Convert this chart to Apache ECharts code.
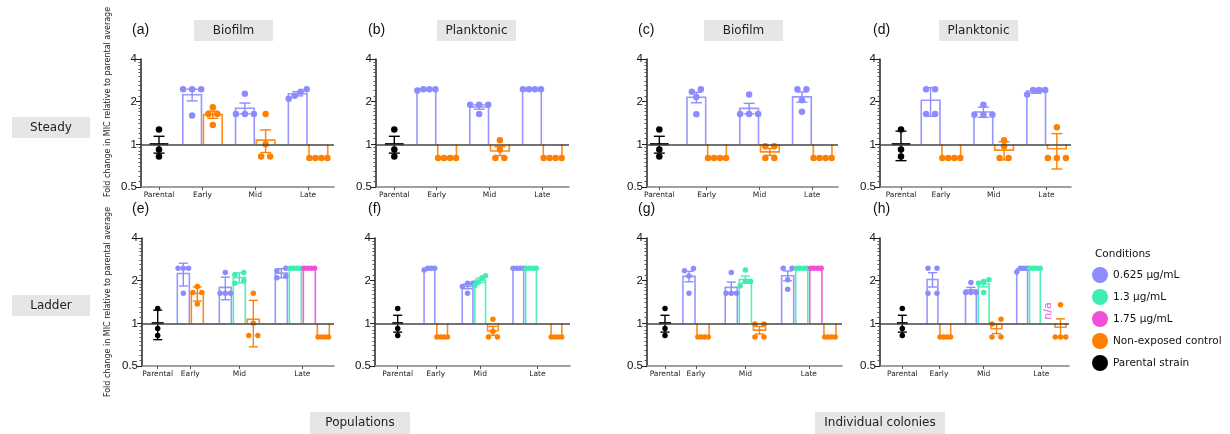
<!DOCTYPE html>
<html>
<head>
<meta charset="utf-8">
<script src="https://cdn.jsdelivr.net/npm/echarts@6/dist/echarts.min.js"></script>
<style>
html, body { margin: 0; padding: 0; background: #fff; }
#chart { width: 1230px; height: 434px; }
</style>
</head>
<body>
<div id="chart"></div>
<script>
const conditions = ['0.625 µg/mL', '1.3 µg/mL', '1.75 µg/mL', 'Non-exposed control', 'Parental strain'];
const condColors = ['#8c8cff', '#3eeeb0', '#f050d8', '#ff8000', '#000000'];
const stages = ['Parental', 'Early', 'Mid', 'Late'];

// parental strain, same three replicates in every panel
const parentalDots = [1.27, 0.92, 0.82];

// condition of each bar slot (index into conditions)
const steadySlots = [0, 3, 0, 3, 0, 3];          // Early, Mid, Late
const ladderSlots = [0, 3, 0, 1, 3, 0, 1, 2, 3]; // Early | Mid | Late

// individual fold changes per bar, in slot order
const dotsA = [[2.45, 2.45, 2.45, 1.6], [1.83, 1.64, 1.64, 1.37], [2.27, 1.64, 1.64, 1.64], [1.64, 1.0, 0.82, 0.82], [2.35, 2.45, 2.2, 2.1], [0.8, 0.8, 0.8, 0.8]];
const dotsB = [[2.4, 2.45, 2.45, 2.45], [0.8, 0.8, 0.8, 0.8], [1.9, 1.9, 1.9, 1.64], [1.07, 0.92, 0.8, 0.8], [2.45, 2.45, 2.45, 2.45], [0.8, 0.8, 0.8, 0.8]];
const dotsC = [[2.35, 2.45, 2.16, 1.63], [0.8, 0.8, 0.8, 0.8], [2.25, 1.64, 1.64, 1.64], [0.97, 0.97, 0.8, 0.8], [2.45, 2.45, 2.05, 1.7], [0.8, 0.8, 0.8, 0.8]];
const dotsD = [[2.45, 2.45, 1.64, 1.64], [0.8, 0.8, 0.8, 0.8], [1.9, 1.62, 1.62, 1.62], [1.07, 0.97, 0.8, 0.8], [2.42, 2.42, 2.42, 2.25], [1.32, 0.8, 0.8, 0.8]];
const dotsE = [[2.45, 2.45, 2.45, 1.63], [1.82, 1.65, 1.65, 1.37], [2.28, 1.63, 1.63, 1.63], [2.28, 2.2, 2.0, 1.92], [1.63, 1.0, 0.82, 0.82], [2.45, 2.35, 2.15, 2.1], [2.45, 2.45, 2.45, 2.45], [2.45, 2.45, 2.45, 2.45], [0.8, 0.8, 0.8, 0.8]];
const dotsF = [[2.38, 2.45, 2.45, 2.45], [0.8, 0.8, 0.8, 0.8], [1.92, 1.92, 1.82, 1.63], [2.1, 2.17, 1.95, 1.85], [1.07, 0.88, 0.8, 0.8], [2.45, 2.45, 2.45, 2.45], [2.45, 2.45, 2.45, 2.45], [], [0.8, 0.8, 0.8, 0.8]];
const dotsG = [[2.35, 2.44, 2.16, 1.63], [0.8, 0.8, 0.8, 0.8], [2.28, 1.63, 1.63, 1.63], [2.38, 1.97, 1.97, 1.84], [0.99, 0.99, 0.8, 0.8], [2.45, 2.45, 2.03, 1.74], [2.45, 2.45, 2.45, 2.45], [2.45, 2.45, 2.45, 2.45], [0.8, 0.8, 0.8, 0.8]];
const dotsH = [[2.45, 2.45, 1.63, 1.63], [0.8, 0.8, 0.8, 0.8], [1.94, 1.65, 1.65, 1.65], [2.03, 1.97, 1.92, 1.65], [1.07, 0.99, 0.8, 0.8], [2.45, 2.45, 2.45, 2.3], [2.45, 2.45, 2.45, 2.45], null, [1.35, 0.8, 0.8, 0.8]];

// layout of the two rows (slot positions in bar widths, relative to first bar)
const rows = [
  { top: 59, height: 128, slotX: [0, 1, 2.55, 3.55, 5.1, 6.1], stageX: [0.5, 3.05, 5.6], cond: steadySlots, dot: 6.5, cap: 11, maxStep: 9, span: 18, letterY: 31 },
  { top: 238, height: 128, slotX: [0, 1, 3, 4, 5, 7, 8, 9, 10], stageX: [0.5, 4, 8.5], cond: ladderSlots, dot: 5.5, cap: 9, maxStep: 9, span: 10.5, letterY: 210 }
];
const panels = [
  { letter: '(a)', row: 0, dots: dotsA, err: 'sem', left: 141, right: 334, parental: 159, unit: 20.7, offset: 1.6, lx: 132 },
  { letter: '(b)', row: 0, dots: dotsB, err: 'sem', left: 376, right: 569, parental: 394.3, unit: 20.7, offset: 1.55, lx: 368 },
  { letter: '(c)', row: 0, dots: dotsC, err: 'sem', left: 647, right: 838, parental: 659.3, unit: 20.7, offset: 1.79, lx: 638 },
  { letter: '(d)', row: 0, dots: dotsD, err: 'sd', left: 880, right: 1071, parental: 901, unit: 20.7, offset: 1.43, lx: 873 },
  { letter: '(e)', row: 1, dots: dotsE, err: 'sd', left: 142, right: 334, parental: 157.7, unit: 14, offset: 1.83, lx: 132 },
  { letter: '(f)', row: 1, dots: dotsF, err: 'sem', left: 375, right: 570, parental: 397.7, unit: 12.7, offset: 2.5, lx: 368 },
  { letter: '(g)', row: 1, dots: dotsG, err: 'sem', left: 647, right: 842, parental: 665, unit: 14.1, offset: 1.7, lx: 638 },
  { letter: '(h)', row: 1, dots: dotsH, err: 'sem', left: 880, right: 1069, parental: 902.3, unit: 12.8, offset: 2.36, lx: 873 }
];

const FONT = 'DejaVu Sans';

function mean(v) { return v.reduce((s, x) => s + x, 0) / v.length; }
function errOf(v, kind) {
  const m = mean(v);
  const sd = Math.sqrt(v.reduce((s, x) => s + (x - m) * (x - m), 0) / (v.length - 1));
  return kind === 'sd' ? sd : sd / Math.sqrt(v.length);
}
// spread dots that would sit on top of each other
function swarm(vals, maxStep, span) {
  const idx = vals.map((v, i) => i).sort((i, j) => vals[i] - vals[j]);
  const groups = [];
  idx.forEach(i => {
    const g = groups[groups.length - 1];
    if (g && Math.abs(Math.log2(vals[i]) - Math.log2(vals[g[g.length - 1]])) < 0.12) g.push(i);
    else groups.push([i]);
  });
  const off = new Array(vals.length).fill(0);
  groups.forEach(g => {
    const step = g.length > 1 ? Math.min(maxStep, span / (g.length - 1)) : 0;
    g.forEach((i, k) => { off[i] = (k - (g.length - 1) / 2) * step; });
  });
  return off;
}

const grids = [], xAxes = [], yAxes = [], series = [], graphics = [];

panels.forEach((p, pi) => {
  const row = rows[p.row];
  grids.push({ left: p.left, top: row.top, width: p.right - p.left, height: row.height });
  const tickVals = [0].concat(row.stageX.map(s => p.offset + s));
  xAxes.push({
    type: 'value', gridIndex: pi,
    min: (p.left - p.parental) / p.unit, max: (p.right - p.parental) / p.unit,
    axisLine: { onZero: false, lineStyle: { color: '#808080', width: 1.5 } },
    axisTick: { customValues: tickVals, length: 3, lineStyle: { color: '#555' } },
    axisLabel: {
      customValues: tickVals, fontFamily: FONT, fontSize: 7.5, color: '#222', margin: 4,
      formatter: v => {
        let best = 0;
        tickVals.forEach((t, k) => { if (Math.abs(t - v) < Math.abs(tickVals[best] - v)) best = k; });
        return stages[best];
      }
    },
    splitLine: { show: false }
  });
  yAxes.push({
    type: 'log', logBase: 2, gridIndex: pi, min: 0.5, max: 4,
    axisLine: { show: true, onZero: false, lineStyle: { color: '#222', width: 1.5 } },
    axisTick: { show: true, length: 5, lineStyle: { color: '#222' } },
    minorTick: { show: true, splitNumber: 10, length: 2.5, lineStyle: { color: '#555' } },
    axisLabel: { fontFamily: 'Liberation Sans', fontSize: 11.5, color: '#111', margin: 4 },
    splitLine: { show: false }
  });

  // bars + parental mean
  const barData = [[0, mean(parentalDots), errOf(parentalDots, p.err), 4]];
  const naData = [];
  const dotSeries = {};
  const pushDots = (ci, x, vals) => {
    const off = swarm(vals, row.maxStep / p.unit, row.span / p.unit);
    (dotSeries[ci] = dotSeries[ci] || []).push(...vals.map((v, k) => [x + off[k], v]));
  };
  pushDots(4, 0, parentalDots);
  p.dots.forEach((vals, s) => {
    const ci = row.cond[s];
    const x = p.offset + row.slotX[s];
    if (vals === null) { naData.push([x, 1.22]); return; }
    if (!vals.length) return;
    barData.push([x, mean(vals), errOf(vals, p.err), ci]);
    pushDots(ci, x, vals);
  });

  series.push({
    type: 'custom', xAxisIndex: pi, yAxisIndex: pi, z: 2, silent: true,
    data: barData,
    renderItem: (params, api) => {
      const x = api.value(0), m = api.value(1), e = api.value(2), c = api.value(3);
      const color = condColors[c];
      const base = api.coord([x, 1]);
      const l = api.coord([x - 0.5, m]), r = api.coord([x + 0.5, m]);
      const hi = api.coord([x, m + e]), lo = api.coord([x, m - e]);
      const children = [];
      if (c === 4) {
        children.push({ type: 'line', shape: { x1: l[0] + 1, y1: l[1], x2: r[0] - 1, y2: r[1] }, style: { stroke: color, lineWidth: 2 } });
      } else {
        children.push({ type: 'polyline', shape: { points: [[l[0] + 1, base[1]], [l[0] + 1, l[1]], [r[0] - 1, r[1]], [r[0] - 1, base[1]]] }, style: { stroke: color, fill: null, lineWidth: 1.6, opacity: 0.9 } });
      }
      if (e > 0.001) {
        const hw = row.cap / 2;
        children.push({ type: 'line', shape: { x1: hi[0], y1: hi[1], x2: lo[0], y2: lo[1] }, style: { stroke: color, lineWidth: 1.4 } });
        children.push({ type: 'line', shape: { x1: hi[0] - hw, y1: hi[1], x2: hi[0] + hw, y2: hi[1] }, style: { stroke: color, lineWidth: 1.4 } });
        children.push({ type: 'line', shape: { x1: lo[0] - hw, y1: lo[1], x2: lo[0] + hw, y2: lo[1] }, style: { stroke: color, lineWidth: 1.4 } });
      }
      return { type: 'group', children };
    },
    markLine: {
      silent: true, symbol: 'none', label: { show: false },
      lineStyle: { color: '#444', width: 1.5, type: 'solid' },
      data: [{ yAxis: 1 }]
    }
  });

  if (naData.length) {
    series.push({
      type: 'custom', xAxisIndex: pi, yAxisIndex: pi, z: 4, silent: true, data: naData,
      renderItem: (params, api) => {
        const pt = api.coord([api.value(0), api.value(1)]);
        return { type: 'text', x: pt[0], y: pt[1], rotation: Math.PI / 2,
          style: { text: 'n/a', fill: condColors[2], font: '11px "DejaVu Sans"', align: 'center', verticalAlign: 'middle' } };
      }
    });
  }

  Object.keys(dotSeries).forEach(ci => {
    series.push({
      type: 'scatter', name: conditions[ci], xAxisIndex: pi, yAxisIndex: pi, z: 3, silent: true,
      symbol: 'circle', symbolSize: row.dot,
      itemStyle: { color: condColors[ci], opacity: 1 },
      data: dotSeries[ci]
    });
  });

  graphics.push({ type: 'text', left: p.lx, top: row.letterY - 8,
    style: { text: p.letter, font: '14px "Liberation Sans"', fill: '#111' } });
});

const boxes = [
  { x: 194, y: 20, w: 79, h: 21, text: 'Biofilm' },
  { x: 437, y: 20, w: 79, h: 21, text: 'Planktonic' },
  { x: 704, y: 20, w: 79, h: 21, text: 'Biofilm' },
  { x: 939, y: 20, w: 79, h: 21, text: 'Planktonic' },
  { x: 12, y: 117, w: 78, h: 21, text: 'Steady' },
  { x: 12, y: 295, w: 78, h: 21, text: 'Ladder' },
  { x: 310, y: 412, w: 100, h: 22, text: 'Populations' },
  { x: 815, y: 412, w: 130, h: 22, text: 'Individual colonies' }
];
boxes.forEach(b => {
  graphics.push({ type: 'rect', shape: { x: b.x, y: b.y, width: b.w, height: b.h }, style: { fill: '#e6e6e6' }, silent: true });
  graphics.push({ type: 'text', x: b.x + b.w / 2, y: b.y + b.h / 2,
    style: { text: b.text, font: '12px "DejaVu Sans"', fill: '#222', align: 'center', verticalAlign: 'middle' } });
});
[102, 302].forEach(cy => {
  graphics.push({ type: 'text', x: 108, y: cy, rotation: Math.PI / 2,
    style: { text: 'Fold change in MIC relative to parental average', font: '8px "DejaVu Sans"', fill: '#222', align: 'center', verticalAlign: 'middle' } });
});
graphics.push({ type: 'text', x: 1095, y: 254,
  style: { text: 'Conditions', font: '10.5px "DejaVu Sans"', fill: '#111', verticalAlign: 'middle' } });

const chart = echarts.init(document.getElementById('chart'));
chart.setOption({
  animation: false,
  backgroundColor: '#fff',
  grid: grids,
  xAxis: xAxes,
  yAxis: yAxes,
  legend: {
    orient: 'vertical', left: 1087, top: 262, itemWidth: 16, itemHeight: 16, itemGap: 6,
    icon: 'circle', data: conditions, selectedMode: false,
    textStyle: { fontFamily: FONT, fontSize: 10.5, color: '#111' }
  },
  graphic: graphics,
  series: series
});
</script>
</body>
</html>
